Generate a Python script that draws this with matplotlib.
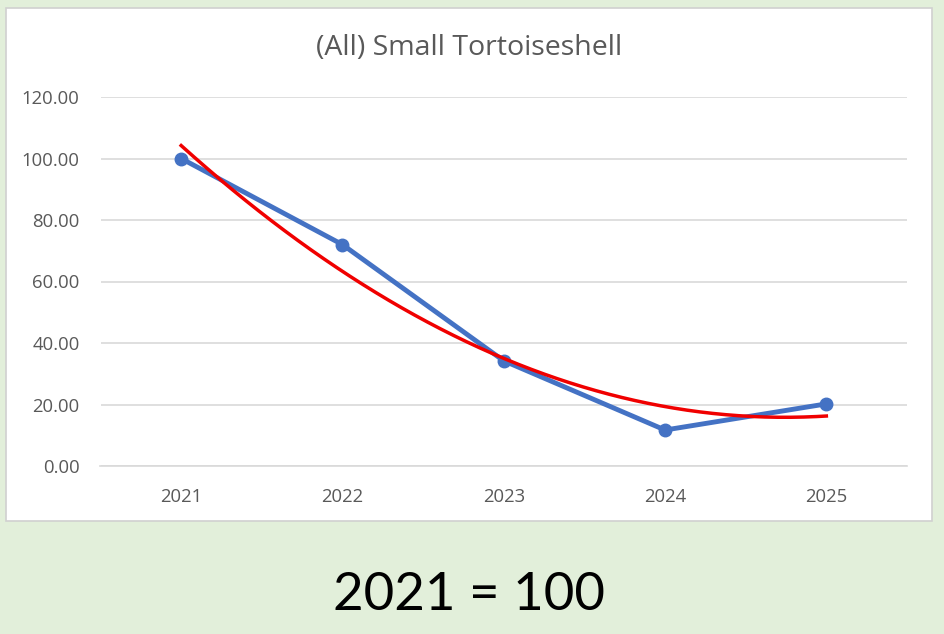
import numpy as np
import matplotlib
matplotlib.use("Agg")
import matplotlib.pyplot as plt
from matplotlib.patches import Rectangle

# data (index, 2021 = 100)
years = ["2021", "2022", "2023", "2024", "2025"]
index_values = [100.0, 72.0, 34.2, 11.7, 20.2]
y_ticks = [0, 20, 40, 60, 80, 100, 120]

BG = "#E2EFDA"
BLUE = "#4472C4"
RED = "#F00000"
GRID = "#D9D9D9"
TXT = "#595959"

plt.rcParams["font.family"] = ["Open Sans", "DejaVu Sans"]

fig = plt.figure(figsize=(9.44, 6.34), dpi=100)
fig.patch.set_facecolor(BG)

W, H = 944.0, 634.0
# white chart box with light grey border, drawn in its own background axes
bg = fig.add_axes([0, 0, 1, 1], zorder=-5)
bg.set_xlim(0, W)
bg.set_ylim(H, 0)
bg.axis("off")
bg.add_patch(Rectangle((6, 8), 932 - 6, 521 - 8, facecolor="white",
                       edgecolor="#D0D0D0", linewidth=1.2))

ax = fig.add_axes([100.5 / W, 1 - 466 / H, (907 - 100.5) / W, (466 - 97) / H])
ax.set_facecolor("none")

x = np.arange(len(years))
ax.plot(x, index_values, color=BLUE, linewidth=3.5, marker="o", markersize=9,
        solid_capstyle="round", zorder=3)

# polynomial (order 2) trendline as in Excel
coef = np.polyfit(x, index_values, 2)
xs = np.linspace(0, len(years) - 1, 200)
ax.plot(xs, np.polyval(coef, xs), color=RED, linewidth=2.5, zorder=4)

ax.set_xlim(-0.5, len(years) - 0.5)
ax.set_ylim(0, 120)
ax.set_yticks(y_ticks)
ax.set_yticklabels([f"{v:.2f}" for v in y_ticks])
ax.set_xticks(x)
ax.set_xticklabels(years)
ax.grid(axis="y", color=GRID, linewidth=1.2)
ax.set_axisbelow(True)
for s in ax.spines.values():
    s.set_visible(False)
ax.spines["bottom"].set_visible(True)
ax.spines["bottom"].set_color(GRID)
ax.spines["bottom"].set_linewidth(1.2)
ax.tick_params(length=0, colors=TXT, labelsize=13.3)
ax.tick_params(axis="y", pad=15)
ax.tick_params(axis="x", pad=16)

fig.text(469 / W, 1 - 48 / H, "(All) Small Tortoiseshell", ha="center", va="center",
         fontsize=20.5, color=TXT)

fig.text(469 / W, 1 - 596 / H, "2021 = 100", ha="center", va="center",
         fontsize=38, color="black", family=["Lato", "DejaVu Sans"])

fig.savefig("out.png", dpi=100, facecolor=BG)
